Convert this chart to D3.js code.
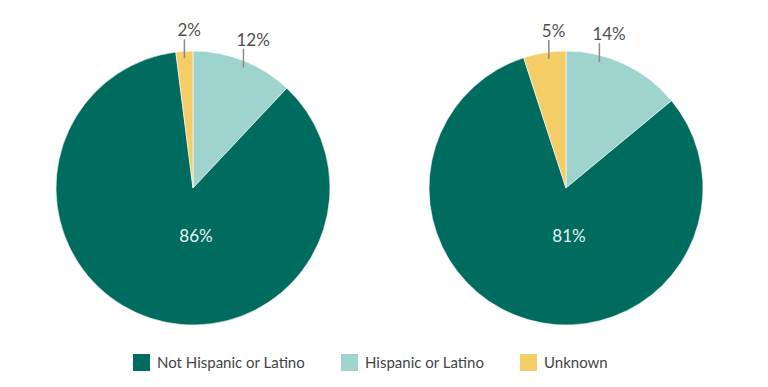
<!DOCTYPE html>
<html>
<head>
<meta charset="utf-8">
<script src="https://cdn.jsdelivr.net/npm/d3@7"></script>
<style>
  body { margin: 0; background: #fff; }
  svg { display: block; font-family: "Lato", "Noto Sans", sans-serif; }
</style>
</head>
<body>
<div id="chart"></div>
<script>
// categories in drawing order (clockwise from 12 o'clock)
const categories = ["Hispanic or Latino", "Not Hispanic or Latino", "Unknown"];
const legendOrder = ["Not Hispanic or Latino", "Hispanic or Latino", "Unknown"];

// percentages for each pie, same order as categories
const leftValues = [12, 86, 2];
const rightValues = [14, 81, 5];

const colors = ["#9fd3cd", "#006b5f", "#f4cd66"];

const width = 768, height = 387;
const radius = 137;
const pieCenters = [[193, 188], [566, 188]];
// where along each small slice the leader line sits (fraction of slice span)
const labelFrac = [[0.5, 0, 0.5], [0.28, 0, 0.6]];
const legendStarts = [133, 341, 520];

const svg = d3.select("#chart").append("svg")
    .attr("width", width)
    .attr("height", height);

const color = d3.scaleOrdinal()
    .domain(categories)
    .range(colors);

const pie = d3.pie()
    .sort(null)
    .value(d => d.value);

const arc = d3.arc()
    .innerRadius(0)
    .outerRadius(radius);

[leftValues, rightValues].forEach(function (values, p) {
    let data = categories.map((c, i) => ({ cat: c, value: values[i] }));
    let arcs = pie(data);
    let [cx, cy] = pieCenters[p];

    let g = svg.append("g")
        .attr("transform", "translate(" + cx + "," + cy + ")");

    g.selectAll("path.slice")
        .data(arcs)
        .enter().append("path")
        .attr("class", "slice")
        .attr("d", arc)
        .attr("fill", d => color(d.data.cat))
        .attr("stroke", "#fff")
        .attr("stroke-width", 0.6);

    arcs.forEach(function (a, i) {
        if (a.data.cat === "Not Hispanic or Latino") {
            // big slice label, white, below center
            g.append("text")
                .attr("x", 3)
                .attr("y", 54)
                .attr("text-anchor", "middle")
                .attr("fill", "#e6f2ef")
                .attr("font-size", 17)
                .text(a.data.value + "%");
        } else {
            let ang = a.startAngle + labelFrac[p][i] * (a.endAngle - a.startAngle);
            let x = radius * Math.sin(ang);
            let y = -radius * Math.cos(ang);
            g.append("line")
                .attr("x1", x).attr("x2", x)
                .attr("y1", y - 12).attr("y2", y + 7)
                .attr("stroke", "#8a8a8a")
                .attr("stroke-width", 1.5);
            g.append("text")
                .attr("x", x - 7)
                .attr("y", y - 15)
                .attr("fill", "#505050")
                .attr("font-size", 17)
                .text(a.data.value + "%");
        }
    });
});

// Legend
const legend = svg.selectAll("g.legend")
    .data(legendOrder)
    .enter().append("g")
    .attr("class", "legend")
    .attr("transform", (d, i) => "translate(" + legendStarts[i] + ",354)");

legend.append("rect")
    .attr("width", 17)
    .attr("height", 17)
    .attr("fill", d => color(d));

legend.append("text")
    .attr("x", 24)
    .attr("y", 14)
    .attr("fill", "#444")
    .attr("font-size", 15)
    .text(d => d);
</script>
</body>
</html>
